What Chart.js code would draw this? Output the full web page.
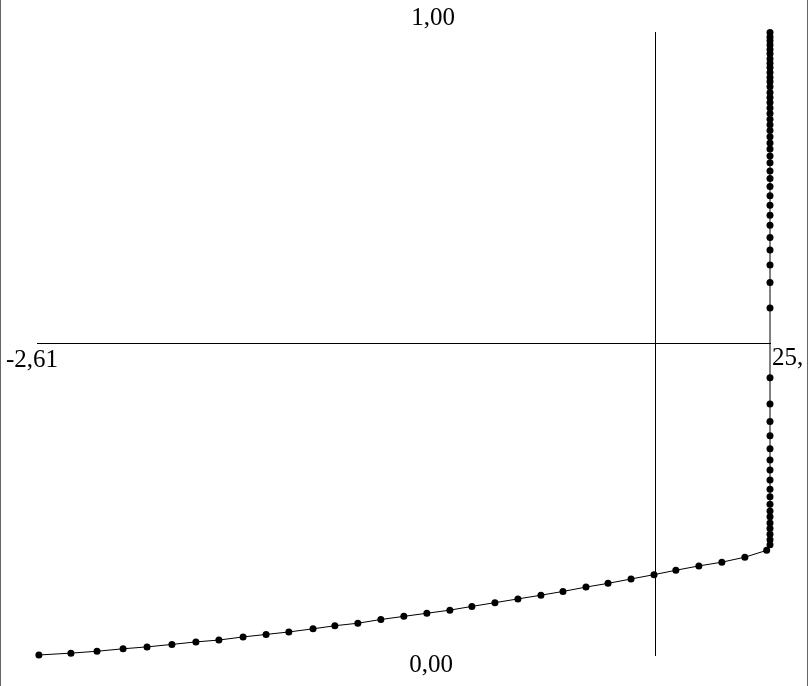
<!DOCTYPE html>
<html>
<head>
<meta charset="utf-8">
<script src="https://cdn.jsdelivr.net/npm/chart.js@4/dist/chart.umd.min.js"></script>
<style>
  html, body { margin: 0; padding: 0; background: #fff; }
  .wrap { width: 809px; height: 686px; position: relative; }
</style>
</head>
<body>
<div class="wrap"><canvas id="curve"></canvas></div>
<script>
// bottom branch of the curve (x, y)
const lowerX = [-2.602, -2.467, -2.357, -2.247, -2.146, -2.041, -1.940, -1.843, -1.741, -1.644,
  -1.548, -1.446, -1.354, -1.257, -1.160, -1.063, -0.966, -0.869, -0.776, -0.679,
  -0.582, -0.485, -0.392, -0.295, -0.202, -0.105, -0.008, 0.084, 0.181, 0.278, 0.375, 0.467];
const lowerY = [0.000, 0.003, 0.006, 0.010, 0.013, 0.017, 0.021, 0.024, 0.029, 0.033,
  0.037, 0.042, 0.047, 0.051, 0.057, 0.062, 0.067, 0.072, 0.078, 0.084,
  0.090, 0.096, 0.102, 0.109, 0.115, 0.122, 0.129, 0.136, 0.143, 0.149, 0.157, 0.168];

// vertical branch, all at the same x
const riseX = 0.481;
const riseY = [0.177, 0.185, 0.194, 0.203, 0.212, 0.222, 0.231, 0.242, 0.254, 0.266,
  0.281, 0.297, 0.313, 0.331, 0.352, 0.375, 0.403, 0.445, 0.557, 0.598,
  0.626, 0.650, 0.670, 0.690, 0.706, 0.722, 0.737, 0.752, 0.765, 0.777,
  0.790, 0.801, 0.812, 0.822, 0.832, 0.842, 0.851, 0.860, 0.869, 0.878,
  0.887, 0.895, 0.903, 0.912, 0.920, 0.927, 0.935, 0.943, 0.950, 0.957,
  0.965, 0.972, 0.979, 0.986, 0.992, 0.999];

const xRange = [-2.61, 0.481];
const yRange = [0, 1];
const edgeLabels = { top: '1,00', bottom: '0,00', left: '-2,61', right: '25,' };

const points = lowerX.map((x, i) => ({ x: x, y: lowerY[i] }))
  .concat(riseY.map(y => ({ x: riseX, y: y })));

const textPlugin = {
  id: 'edgeText',
  afterDraw(chart) {
    const ctx = chart.ctx;
    const a = chart.chartArea;
    ctx.save();
    // frame sides
    ctx.strokeStyle = '#666';
    ctx.lineWidth = 1;
    ctx.beginPath();
    ctx.moveTo(0.5, 0); ctx.lineTo(0.5, chart.height);
    ctx.moveTo(chart.width - 1.5, 0); ctx.lineTo(chart.width - 1.5, chart.height);
    ctx.stroke();

    ctx.fillStyle = '#000';
    ctx.font = '25px "Liberation Serif", "Times New Roman", serif';
    ctx.textBaseline = 'alphabetic';
    ctx.textAlign = 'center';
    ctx.fillText(edgeLabels.top, a.left + 396, a.top - 7);
    ctx.fillText(edgeLabels.bottom, a.left + 394, a.bottom + 17);
    ctx.textAlign = 'left';
    ctx.fillText(edgeLabels.left, 6, 367);
    ctx.fillText(edgeLabels.right, a.right + 2, 365);
    ctx.restore();
  }
};

new Chart(document.getElementById('curve'), {
  type: 'scatter',
  data: {
    datasets: [{
      data: points,
      showLine: true,
      borderColor: '#000',
      borderWidth: 1,
      backgroundColor: '#000',
      pointRadius: 3.5,
      pointBorderWidth: 0,
      pointBackgroundColor: '#000',
      clip: false
    }]
  },
  options: {
    responsive: true,
    maintainAspectRatio: false,
    animation: false,
    layout: { padding: { left: 37, right: 39, top: 32, bottom: 31 } },
    plugins: { legend: { display: false }, tooltip: { enabled: false } },
    scales: {
      x: {
        type: 'linear',
        min: xRange[0], max: xRange[1],
        position: { y: 0.5 },
        ticks: { display: false },
        grid: { drawOnChartArea: false, drawTicks: false },
        border: { display: true, color: '#000', width: 1 }
      },
      y: {
        type: 'linear',
        min: yRange[0], max: yRange[1],
        position: { x: 0 },
        ticks: { display: false },
        grid: { drawOnChartArea: false, drawTicks: false },
        border: { display: true, color: '#000', width: 1 }
      }
    }
  },
  plugins: [textPlugin]
});
</script>
</body>
</html>
